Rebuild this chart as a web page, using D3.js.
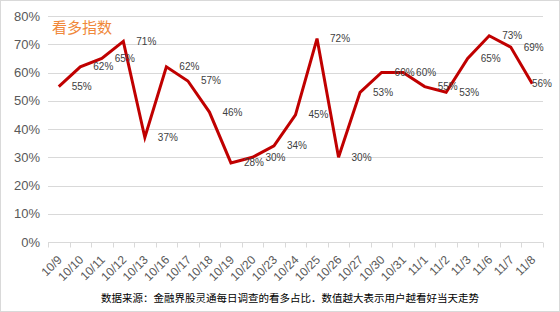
<!DOCTYPE html>
<html>
<head>
<meta charset="utf-8">
<script src="https://cdn.jsdelivr.net/npm/d3@7"></script>
<style>
  body { margin: 0; background: #fff; }
  svg { display: block; font-family: "Liberation Sans", Arial, "Noto Sans CJK SC", sans-serif; }
</style>
</head>
<body>
<div id="chart"></div>
<script>
// Data
const dates = ["10/9","10/10","10/11","10/12","10/13","10/16","10/17","10/18","10/19","10/20",
  "10/23","10/24","10/25","10/26","10/27","10/30","10/31","11/1","11/2","11/3","11/6","11/7","11/8"];
const bullish = [55,62,65,71,37,62,57,46,28,30,34,45,72,30,53,60,60,55,53,65,73,69,56];
const yTicks = [0,10,20,30,40,50,60,70,80];

const width = 560, height = 312;
const margin = { top: 16, right: 17, bottom: 70, left: 48 };

const svg = d3.select("#chart").append("svg")
    .attr("width", width)
    .attr("height", height);

// outer border
svg.append("rect")
    .attr("x", 0.5).attr("y", 0.5)
    .attr("width", width - 1).attr("height", height - 1)
    .attr("fill", "#fff")
    .attr("stroke", "#d9d9d9");

const x = d3.scaleBand()
    .domain(dates)
    .range([margin.left, width - margin.right]);

const y = d3.scaleLinear()
    .domain([0, 80])
    .range([height - margin.bottom, margin.top]);

const cx = d => x(d) + x.bandwidth() / 2;

// gridlines
svg.append("g")
    .selectAll("line")
    .data(yTicks.filter(d => d > 0))
    .join("line")
    .attr("x1", margin.left).attr("x2", width - margin.right)
    .attr("y1", d => Math.round(y(d)) + 0.5).attr("y2", d => Math.round(y(d)) + 0.5)
    .attr("stroke", "#d9d9d9");

// y labels
svg.append("g")
    .selectAll("text")
    .data(yTicks)
    .join("text")
    .attr("x", margin.left - 8)
    .attr("y", d => y(d))
    .attr("dy", "0.35em")
    .attr("text-anchor", "end")
    .attr("fill", "#595959")
    .style("font-size", "13px")
    .text(d => d + "%");

// x axis
const xAxis = svg.append("g")
    .attr("transform", `translate(0,${Math.round(y(0)) + 0.5})`);
xAxis.append("line")
    .attr("x1", margin.left).attr("x2", width - margin.right)
    .attr("stroke", "#d9d9d9");
xAxis.selectAll("line.tick")
    .data(dates.concat(["end"]))
    .join("line")
    .attr("class", "tick")
    .attr("x1", (d, i) => Math.round(margin.left + i * x.bandwidth()) + 0.5)
    .attr("x2", (d, i) => Math.round(margin.left + i * x.bandwidth()) + 0.5)
    .attr("y1", 0).attr("y2", 5)
    .attr("stroke", "#d9d9d9");
xAxis.selectAll("text")
    .data(dates)
    .join("text")
    .attr("transform", d => `translate(${cx(d) + 1},15) rotate(-45)`)
    .attr("text-anchor", "end")
    .attr("dy", "0.35em")
    .attr("fill", "#595959")
    .style("font-size", "12px")
    .text(d => d);

// line
const line = d3.line()
    .x((d, i) => cx(dates[i]))
    .y(d => y(d));

svg.append("path")
    .datum(bullish)
    .attr("d", line)
    .attr("fill", "none")
    .attr("stroke", "#c00000")
    .attr("stroke-width", 3)
    .attr("stroke-linejoin", "miter");

// data labels (kept inside the chart border)
svg.append("g")
    .selectAll("text")
    .data(bullish)
    .join("text")
    .attr("y", d => y(d))
    .attr("dy", "0.35em")
    .attr("fill", "#404040")
    .style("font-size", "10px")
    .text(d => d + "%")
    .attr("x", function(d, i) {
        const w = this.getComputedTextLength();
        return Math.min(cx(dates[i]) + 13, width - 8 - w);
    });

// title
svg.append("text")
    .attr("x", 52).attr("y", 33)
    .attr("fill", "#f0883a")
    .style("font-size", "15px")
    .style("font-family", "'Noto Sans CJK SC', sans-serif")
    .text("看多指数");

// footnote
svg.append("text")
    .attr("x", 290).attr("y", 302)
    .attr("text-anchor", "middle")
    .attr("fill", "#000")
    .style("font-size", "10.5px")
    .style("font-family", "'Noto Sans CJK SC', sans-serif")
    .text("数据来源：金融界股灵通每日调查的看多占比．数值越大表示用户越看好当天走势");
</script>
</body>
</html>
